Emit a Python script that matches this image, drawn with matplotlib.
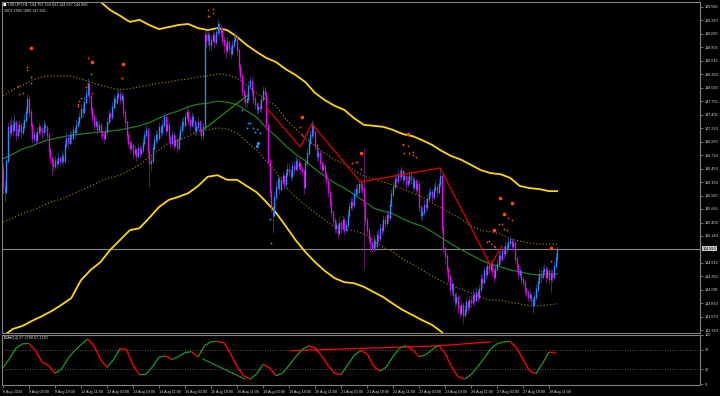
import matplotlib
matplotlib.use("Agg")
import matplotlib.pyplot as plt
from matplotlib.collections import LineCollection
import numpy as np

# ---------------- DATA ----------------
symbol_header = "USDJPY,H1  144.703 144.941 144.657 144.890"
header_line2 = "1001 2890 1889 147.641"
osc_label = "指标(14) 67.3780 67.3780"

first_open = 146.45
closes = [
146.10,146.00,146.60,147.25,147.15,147.30,147.20,147.35,147.10,147.20,147.30,147.15,147.25,
147.40,147.55,147.80,147.55,147.30,147.05,147.10,147.00,147.15,147.25,147.20,147.15,147.30,147.25,147.10,146.80,146.65,146.55,146.50,146.60,146.55,146.65,146.60,146.70,
146.60,146.90,147.05,146.95,147.10,147.05,147.20,147.15,147.30,147.35,147.45,147.60,147.55,147.75,147.90,148.10,147.85,147.60,147.45,147.30,147.35,147.20,147.30,147.15,
147.10,147.05,147.15,147.35,147.50,147.45,147.65,147.80,147.75,147.85,147.90,147.80,147.85,147.55,147.35,147.10,146.95,146.85,146.90,146.75,146.80,146.70,146.85,146.75,
146.80,146.95,147.10,147.20,146.80,146.55,146.60,146.85,147.00,147.10,147.05,147.25,147.15,147.30,147.45,147.20,147.30,147.05,146.95,147.10,146.90,147.00,146.85,147.05,
147.20,147.35,147.30,147.45,147.55,147.40,147.30,147.45,147.35,147.20,147.25,147.35,147.20,147.10,147.25,149.05,148.95,149.05,148.85,148.95,149.05,148.90,149.10,149.25,
149.10,149.15,148.95,148.85,148.75,148.90,148.80,148.70,148.85,148.95,149.00,148.75,148.45,148.25,147.95,147.85,147.75,147.80,148.05,148.15,147.95,147.80,147.70,147.60,
147.65,147.62,147.80,147.95,147.90,147.30,146.60,146.00,145.70,145.55,145.90,146.10,146.25,146.05,146.20,146.30,146.15,146.35,146.45,146.40,146.30,146.50,146.45,146.60,
146.50,146.55,146.45,146.40,146.10,146.55,146.75,146.95,147.10,147.30,147.15,146.90,146.70,146.75,146.55,146.45,146.50,146.35,146.20,146.00,145.80,145.60,145.45,145.30,
145.35,145.20,145.40,145.30,145.45,145.25,145.35,145.55,145.70,145.80,145.75,145.95,146.05,146.00,146.15,146.10,146.05,145.75,145.45,145.25,145.10,145.00,144.90,145.05,
144.95,145.15,145.10,145.30,145.25,145.45,145.40,145.55,145.50,145.75,145.95,146.10,146.25,146.20,146.35,146.30,146.40,146.25,146.30,146.15,146.20,146.30,146.25,146.10,
146.20,146.05,146.15,145.70,145.55,145.60,145.75,145.70,145.85,145.95,146.00,145.90,146.05,146.10,146.00,146.15,146.30,145.30,144.90,144.75,144.50,144.35,144.10,144.20,
144.00,143.85,143.95,143.75,143.65,143.80,143.60,143.70,143.85,143.75,143.90,143.85,144.00,143.90,144.05,143.95,144.10,144.30,144.25,144.45,144.40,144.55,144.50,144.60,
144.45,144.35,144.50,144.60,144.75,144.70,144.85,144.80,144.95,144.90,145.00,145.05,144.95,145.00,144.70,144.55,144.40,144.45,144.30,144.25,144.10,144.05,143.95,144.00,
143.90,143.80,143.95,144.10,144.25,144.40,144.35,144.45,144.50,144.35,144.45,144.30,144.40,144.35,144.55,144.703,144.890]

highs = [
146.55,146.20,146.70,147.35,147.40,147.45,147.40,147.50,147.40,147.30,147.40,147.35,147.35,
147.50,147.65,147.90,147.85,147.60,147.35,147.20,147.15,147.25,147.35,147.30,147.25,147.40,147.35,147.30,147.15,146.85,146.70,146.65,146.70,146.65,146.75,146.70,146.80,
146.75,147.00,147.15,147.10,147.20,147.15,147.30,147.25,147.40,147.45,147.55,147.70,147.70,147.85,148.00,148.20,148.15,147.90,147.65,147.50,147.45,147.40,147.40,147.35,
147.20,147.15,147.25,147.45,147.60,147.55,147.75,147.90,147.85,147.95,148.00,147.95,147.95,147.90,147.60,147.40,147.15,147.00,147.00,146.95,146.90,146.85,146.95,146.90,
146.90,147.05,147.20,147.30,147.25,146.85,146.70,146.95,147.10,147.20,147.20,147.35,147.30,147.40,147.55,147.50,147.40,147.35,147.10,147.20,147.15,147.10,147.05,147.15,
147.30,147.45,147.45,147.55,147.65,147.60,147.45,147.55,147.50,147.40,147.35,147.45,147.40,147.25,147.35,149.15,149.15,149.15,149.10,149.05,149.15,149.10,149.20,149.35,
149.30,149.25,149.20,149.00,148.90,149.00,148.95,148.85,148.95,149.05,149.10,149.05,148.80,148.50,148.30,148.00,147.90,147.90,148.15,148.25,148.20,148.00,147.85,147.75,
147.75,147.75,147.90,148.05,148.05,147.95,147.35,146.65,146.05,145.75,146.00,146.20,146.35,146.30,146.30,146.40,146.35,146.45,146.55,146.55,146.45,146.60,146.60,146.70,
146.65,146.65,146.60,146.50,146.45,146.65,146.85,147.05,147.20,147.40,147.35,147.20,146.95,146.85,146.80,146.60,146.60,146.55,146.40,146.25,146.05,145.85,145.65,145.50,
145.45,145.40,145.50,145.45,145.55,145.50,145.45,145.65,145.80,145.90,145.90,146.05,146.15,146.15,146.25,146.25,146.20,146.85,145.80,145.50,145.30,145.15,145.05,145.15,
145.10,145.25,145.25,145.40,145.40,145.55,145.55,145.65,145.65,145.85,146.05,146.20,146.35,146.35,146.45,146.45,146.50,146.45,146.40,146.35,146.30,146.40,146.40,146.30,
146.30,146.25,146.25,146.20,145.75,145.70,145.85,145.85,145.95,146.05,146.10,146.05,146.15,146.20,146.15,146.25,146.45,146.35,145.35,144.95,144.80,144.55,144.40,144.30,
144.25,144.05,144.05,144.00,143.80,143.90,143.85,143.80,143.95,143.90,144.00,144.00,144.10,144.05,144.15,144.10,144.20,144.40,144.40,144.55,144.55,144.65,144.65,144.70,
144.65,144.50,144.60,144.70,144.85,144.85,144.95,144.95,145.05,145.05,145.10,145.15,145.10,145.10,145.05,144.75,144.60,144.55,144.50,144.35,144.30,144.15,144.10,144.10,
144.05,143.95,144.05,144.20,144.35,144.50,144.50,144.55,144.60,144.55,144.55,144.50,144.50,144.50,144.65,144.80,144.941]

lows = [
145.95,145.80,145.95,146.55,147.05,147.10,147.10,147.15,147.00,147.05,147.15,147.05,147.10,
147.20,147.35,147.50,147.45,147.20,146.95,146.95,146.90,146.95,147.10,147.10,147.05,147.10,147.15,147.00,146.70,146.55,146.30,146.40,146.45,146.45,146.50,146.50,146.55,
146.50,146.55,146.85,146.85,146.90,146.95,147.00,147.05,147.10,147.25,147.30,147.40,147.45,147.50,147.70,147.85,147.75,147.50,147.35,147.20,147.25,147.10,147.15,147.05,
147.00,146.95,147.00,147.10,147.30,147.35,147.40,147.60,147.65,147.70,147.80,147.70,147.75,147.45,147.25,147.00,146.85,146.75,146.80,146.65,146.70,146.60,146.65,146.65,
146.70,146.75,146.90,147.05,146.70,146.10,146.40,146.55,146.80,146.95,146.95,147.00,147.05,147.10,147.25,147.10,147.15,146.95,146.85,146.90,146.80,146.85,146.75,146.80,
147.00,147.15,147.20,147.25,147.40,147.30,147.20,147.25,147.25,147.10,147.10,147.20,147.10,147.00,147.05,147.20,148.80,148.85,148.75,148.75,148.90,148.80,148.85,149.05,
149.00,149.00,148.85,148.70,148.60,148.70,148.70,148.60,148.65,148.80,148.90,148.65,148.35,148.15,147.85,147.75,147.65,147.65,147.75,148.00,147.85,147.70,147.60,147.50,
147.50,147.55,147.55,147.75,147.80,147.20,146.50,145.90,145.60,145.20,145.50,145.85,146.05,145.95,146.00,146.15,146.05,146.10,146.30,146.30,146.20,146.25,146.35,146.40,
146.40,146.45,146.35,146.30,145.95,146.05,146.50,146.70,146.90,147.05,147.05,146.80,146.60,146.60,146.45,146.35,146.40,146.25,146.10,145.90,145.70,145.50,145.35,145.20,
145.20,145.10,145.15,145.20,145.25,145.15,145.20,145.30,145.50,145.65,145.65,145.70,145.90,145.90,145.95,146.00,145.95,144.50,145.35,145.15,145.00,144.85,144.80,144.85,
144.85,144.90,145.00,145.05,145.15,145.20,145.30,145.35,145.40,145.45,145.70,145.90,146.05,146.10,146.15,146.20,146.25,146.15,146.20,146.05,146.10,146.15,146.15,146.00,
146.05,145.95,146.00,145.60,145.45,145.45,145.55,145.60,145.65,145.80,145.90,145.80,145.85,146.00,145.90,145.95,146.10,145.20,144.80,144.60,144.40,144.25,144.00,144.00,
143.90,143.75,143.80,143.65,143.55,143.60,143.45,143.55,143.65,143.65,143.70,143.75,143.80,143.80,143.85,143.85,143.90,144.05,144.15,144.20,144.30,144.35,144.40,144.45,
144.35,144.25,144.30,144.45,144.55,144.60,144.65,144.70,144.75,144.80,144.85,144.95,144.85,144.90,144.60,144.45,144.30,144.35,144.20,144.15,144.00,143.95,143.85,143.90,
143.80,143.65,143.75,143.90,144.05,144.20,144.25,144.30,144.40,144.25,144.30,144.20,144.05,144.25,144.30,144.50,144.657]

# bands sampled every 6 bars (plus last bar)
band_idx = list(range(0, 337, 6)) + [341]
band_upper = [150.41,150.37,150.31,150.27,150.21,150.15,150.08,150.00,149.88,149.78,149.69,149.53,149.42,149.30,149.34,149.24,149.16,149.20,149.24,149.26,149.18,149.14,149.18,149.14,149.01,148.85,148.72,148.60,148.52,148.38,148.27,148.13,147.92,147.78,147.67,147.59,147.43,147.30,147.28,147.26,147.20,147.12,147.08,147.00,146.91,146.79,146.69,146.62,146.52,146.42,146.36,146.34,146.27,146.11,146.07,146.05,146.01,146.01]
band_lower = [143.19,143.33,143.39,143.49,143.58,143.68,143.80,143.93,144.28,144.48,144.63,144.87,145.06,145.25,145.29,145.49,145.70,145.84,145.90,145.97,146.11,146.29,146.32,146.23,146.23,146.11,145.99,145.80,145.59,145.33,145.06,144.83,144.63,144.46,144.32,144.24,144.22,144.15,144.05,143.95,143.82,143.70,143.60,143.50,143.41,143.27,143.02,142.82,142.63,142.49,142.38,142.30,142.24,142.18,142.10,142.05,142.01,141.97]
inner_upper = [147.86,147.98,148.07,148.17,148.23,148.25,148.25,148.25,148.19,148.13,148.07,148.02,147.98,148.00,148.04,148.07,148.11,148.13,148.17,148.19,148.23,148.25,148.29,148.27,148.21,148.07,147.92,147.78,147.67,147.41,147.22,147.04,146.89,146.75,146.62,146.54,146.42,146.30,146.25,146.19,146.13,146.05,145.97,145.90,145.78,145.68,145.57,145.47,145.33,145.25,145.22,145.18,145.08,145.04,145.00,144.98,144.98,144.98]
inner_lower = [145.41,145.49,145.57,145.64,145.72,145.80,145.86,145.94,146.03,146.11,146.21,146.27,146.32,146.42,146.52,146.67,146.81,146.95,147.00,147.08,147.18,147.20,147.24,147.22,147.14,146.97,146.81,146.60,146.38,146.09,145.90,145.74,145.59,145.45,145.31,145.27,145.24,145.18,145.06,144.92,144.83,144.69,144.59,144.48,144.36,144.26,144.17,144.11,144.03,143.95,143.89,143.89,143.85,143.82,143.78,143.78,143.80,143.82]
mid_line = [146.64,146.73,146.83,146.89,146.97,147.02,147.06,147.10,147.12,147.14,147.16,147.18,147.20,147.24,147.28,147.34,147.43,147.51,147.57,147.65,147.70,147.72,147.76,147.74,147.69,147.57,147.45,147.24,147.08,146.89,146.73,146.60,146.44,146.30,146.17,146.07,145.95,145.82,145.68,145.62,145.57,145.47,145.39,145.33,145.22,145.10,144.98,144.87,144.77,144.67,144.59,144.54,144.48,144.44,144.40,144.38,144.40,144.40]

# zigzag lines
zz_red_bars = [162, 183, 190, 220, 269, 300, 307]
zz_red_prices = [147.63, 146.87, 147.32, 146.19, 146.46, 144.57, 144.94]
zz_green_bars = [123, 150]
zz_green_prices = [147.20, 147.86]

# signal dots
sig_big_bars = [17, 55, 74, 184, 220, 249, 306, 313, 308, 302, 337]
sig_big_prices = [148.79, 148.52, 148.48, 147.45, 146.75, 147.12, 145.88, 145.78, 145.56, 145.25, 144.90]
sig_small_bars = [9, 10, 12, 15, 15, 17, 17, 52, 54, 52, 51, 55, 48, 47, 46, 46, 73, 73, 126, 129, 129, 127, 126,
                  183, 184, 215, 217, 218, 220, 246, 246, 249, 247, 250, 252, 254, 252, 311, 313, 305, 307, 308, 310,
                  298, 299, 300, 302, 303, 337]
sig_small_prices = [148.05, 147.90, 147.92, 148.42, 148.36, 148.23, 148.11, 148.60, 148.29, 148.09, 148.03, 147.92,
                    147.82, 147.76, 147.70, 147.66, 148.21, 148.21, 149.53, 149.55, 149.47, 149.42, 149.42,
                    147.26, 147.10, 146.56, 146.58, 146.58, 146.44, 146.91, 146.93, 146.89, 146.75, 146.75, 146.77,
                    146.67, 146.71, 145.49, 145.45, 145.37, 145.37, 145.27, 145.25, 145.02, 145.04, 144.98, 144.94,
                    144.92, 144.65]
blue_dot_bars = [151, 152, 150, 154, 156, 155, 158, 147, 164, 165]
blue_dot_prices = [147.33, 147.33, 147.24, 147.24, 147.22, 147.16, 147.14, 147.59, 145.47, 145.00]
blue_big_bars = [157, 156]
blue_big_prices = [146.95, 146.89]

# oscillator (every 4 bars)
osc_idx = list(range(0, 341, 4))
osc_vals = [33,52,73,82,83,68,45,38,22,30,52,68,80,92,78,50,34,50,72,70,
            38,19,20,35,55,57,50,56,64,66,55,78,86,87,84,62,36,17,10,20,
            40,33,17,22,38,55,70,78,74,58,38,22,19,38,58,68,62,36,26,35,
            56,73,78,70,56,59,70,79,63,35,15,10,19,35,52,71,82,86,87,74,
            50,27,21,42,65,64]
osc_div_green_bars = [123, 149]
osc_div_green_vals = [51, 10]
osc_div_red_bars = [177, 269, 300]
osc_div_red_vals = [68, 78, 86]

price_ticks = [149.590, 149.330, 149.065, 148.805, 148.545, 148.280, 148.020, 147.755, 147.495,
               147.230, 146.970, 146.710, 146.450, 146.185, 145.925, 145.665, 145.400, 145.140,
               144.615, 144.355, 144.095, 143.830, 143.570, 143.310]
current_price = 144.890
osc_ticks = [100, 70, 30, 0]
time_labels = ["8 Aug 2024", "9 Aug 03:00", "9 Aug 19:00", "12 Aug 11:00", "13 Aug 03:00", "13 Aug 19:00",
               "14 Aug 11:00", "15 Aug 03:00", "15 Aug 19:00", "16 Aug 11:00", "19 Aug 03:00", "19 Aug 19:00",
               "20 Aug 11:00", "21 Aug 03:00", "21 Aug 19:00", "22 Aug 11:00", "23 Aug 03:00", "23 Aug 19:00",
               "26 Aug 11:00", "27 Aug 03:00", "27 Aug 19:00", "28 Aug 11:00"]
time_label_bars = list(range(0, 337, 16))

# ---------------- STYLE / LAYOUT ----------------
plt.rcParams['font.family'] = ['Liberation Sans', 'Noto Sans CJK SC', 'DejaVu Sans']
W, H = 720, 396
BG = 'black'
GRID = '#808080'
TXT = '#D8D8D8'
FS = 2.7

fig = plt.figure(figsize=(7.2, 3.96), dpi=100, facecolor=BG)

def fpos(x0, y0, x1, y1):
    return [x0 / W, 1 - y1 / H, (x1 - x0) / W, (y1 - y0) / H]

bar_px = 1.625
xl = (2 - 3) / bar_px
xr = (700 - 3) / bar_px

ax = fig.add_axes(fpos(2, 2, 700, 333))
ax.set_facecolor(BG)
ax.set_xlim(xl, xr)
ax.set_ylim(143.252, 149.687)

ax2 = fig.add_axes(fpos(2, 334.5, 700, 385))
ax2.set_facecolor(BG)
ax2.set_xlim(xl, xr)
ax2.set_ylim(-2.04, 101.02)

for a in (ax, ax2):
    for s in a.spines.values():
        s.set_color(GRID)
        s.set_linewidth(0.8)

# candles
n = len(closes)
xs = np.arange(n)
opens = np.array([first_open] + closes[:-1])
c = np.array(closes)
hi = np.maximum(np.array(highs), np.maximum(opens, c))
lo = np.minimum(np.array(lows), np.minimum(opens, c))
bull = c >= opens
body_col = np.where(bull, '#1E90FF', '#F000F0')
wick_col = np.where(bull, '#1F4E8C', '#7A1F86')
ax.vlines(xs, lo, hi, colors=wick_col, linewidth=0.55, zorder=3)
ax.vlines(xs, np.minimum(opens, c), np.maximum(opens, c), colors=body_col,
          linewidth=0.95, capstyle='projecting', zorder=4)

# bands
ax.plot(band_idx, band_upper, color='#FFD700', lw=1.3, zorder=2)
ax.plot(band_idx, band_lower, color='#FFD700', lw=1.3, zorder=2)
ax.plot(band_idx, inner_upper, color='#8C7400', lw=0.9, ls=(0, (1, 1.6)), zorder=2)
ax.plot(band_idx, inner_lower, color='#8C7400', lw=0.9, ls=(0, (1, 1.6)), zorder=2)
ax.plot(band_idx, mid_line, color='#1F7F1F', lw=0.9, zorder=2)

# zigzags
ax.plot(zz_red_bars, zz_red_prices, color='#E00000', lw=0.9, zorder=5)
ax.plot(zz_green_bars, zz_green_prices, color='#1F8F1F', lw=0.9, zorder=5)

# dots
ax.scatter(sig_small_bars, sig_small_prices, s=1.6, color='#FF4A00', lw=0, zorder=6)
ax.scatter(sig_big_bars, sig_big_prices, s=7, color='#FF4A00', lw=0, zorder=6)
ax.scatter(blue_dot_bars, blue_dot_prices, s=1.8, color='#1E90FF', lw=0, zorder=6)
ax.scatter(blue_big_bars, blue_big_prices, s=5, color='#1E90FF', lw=0, zorder=6)

# current price line
ax.axhline(current_price, color='#8A8A8A', lw=0.8, zorder=1)

# right axis ticks
ax.yaxis.tick_right()
ax.set_yticks(price_ticks)
ax.set_yticklabels([f"{p:.3f}" for p in price_ticks])
ax.tick_params(axis='y', colors=GRID, labelcolor=TXT, labelsize=FS, length=2, width=0.6, pad=1.2)
ax.set_xticks([])
ax.text(1.0035, current_price, f"{current_price:.3f}", transform=ax.get_yaxis_transform(),
        fontsize=FS, color='black', va='center', ha='left',
        bbox=dict(boxstyle='square,pad=0.2', fc='#C8C8C8', ec='none'), zorder=10, clip_on=False)

# oscillator
ox = np.array(osc_idx)
ov = np.array(osc_vals, dtype=float)
segs = [[(ox[i], ov[i]), (ox[i + 1], ov[i + 1])] for i in range(len(ox) - 1)]
cols = ['#1E8F1E' if ov[i + 1] >= ov[i] else '#FF0000' for i in range(len(ox) - 1)]
ax2.add_collection(LineCollection(segs, colors=cols, linewidths=1.0, zorder=3))
ax2.plot(osc_div_green_bars, osc_div_green_vals, color='#1E8F1E', lw=0.9, zorder=2)
ax2.plot(osc_div_red_bars, osc_div_red_vals, color='#FF0000', lw=0.9, zorder=2)
for lvl in (70, 30):
    ax2.axhline(lvl, color='#707070', lw=0.6, ls=(0, (1, 2)), zorder=1)

ax2.yaxis.tick_right()
ax2.set_yticks(osc_ticks)
ax2.set_yticklabels([str(v) for v in osc_ticks])
ax2.tick_params(axis='y', colors=GRID, labelcolor=TXT, labelsize=FS, length=2, width=0.6, pad=1.2)
ax2.set_xticks(time_label_bars)
ax2.set_xticklabels(time_labels)
ax2.tick_params(axis='x', colors=GRID, labelcolor=TXT, labelsize=FS, length=2.5, width=0.6, pad=1.0)
for t in ax2.get_xticklabels():
    t.set_ha('left')

# header texts
fig.text(3 / W, 1 - 4.5 / H, "■", fontsize=2.6, color='white', va='center', ha='left', family='DejaVu Sans')
fig.text(8 / W, 1 - 4.5 / H, symbol_header, fontsize=FS, color=TXT, va='center', ha='left')
fig.text(4 / W, 1 - 10.5 / H, header_line2, fontsize=FS, color=TXT, va='center', ha='left')
fig.text(4 / W, 1 - 338 / H, osc_label, fontsize=FS, color=TXT, va='center', ha='left')

fig.savefig("out.png", dpi=100, facecolor=BG)
